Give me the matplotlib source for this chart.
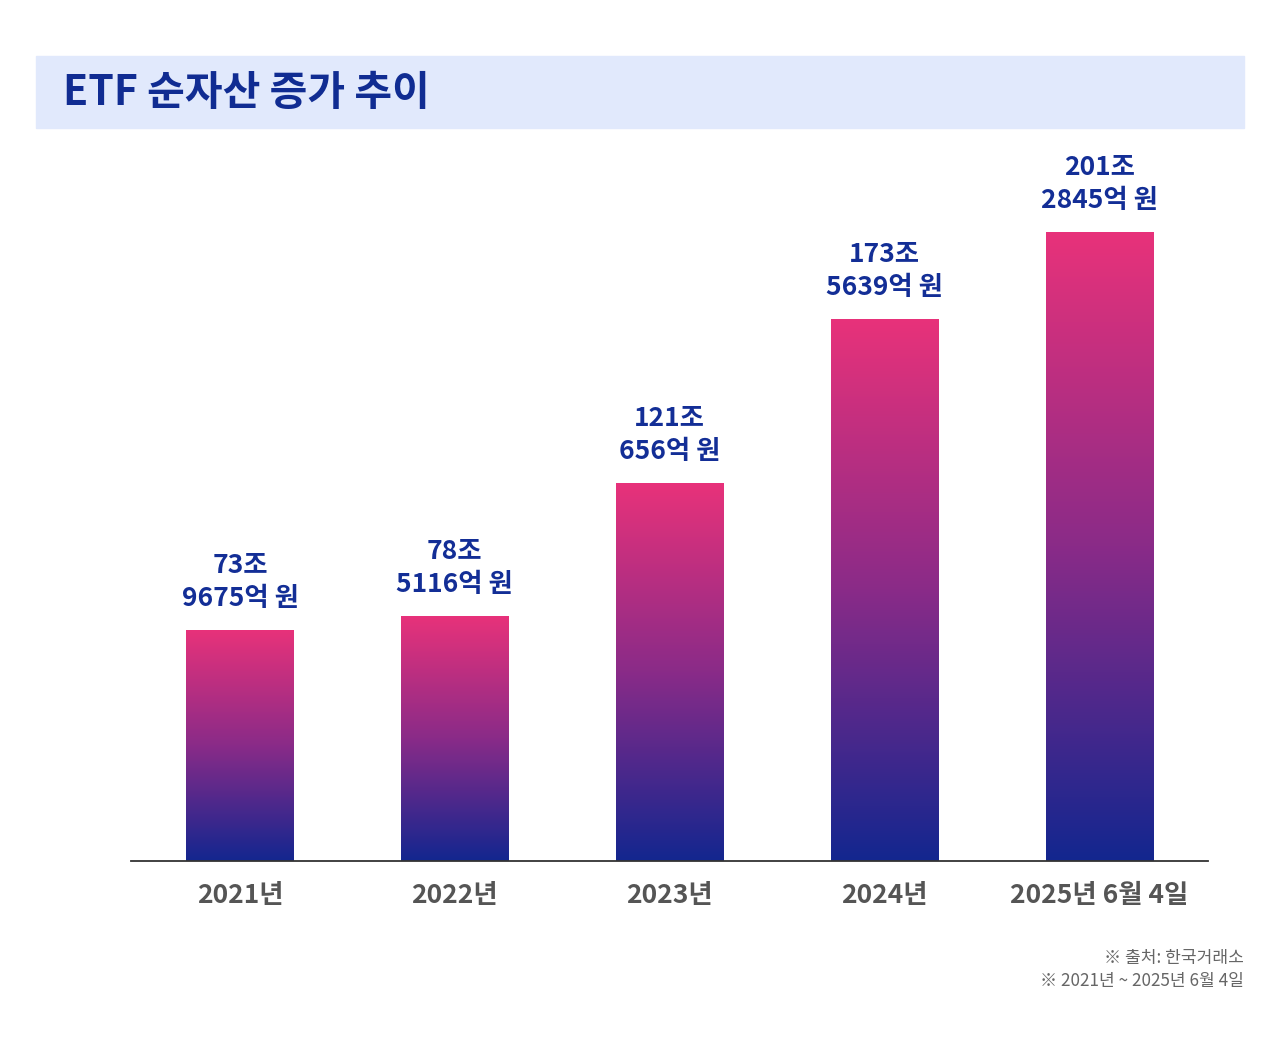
import numpy as np
import matplotlib.pyplot as plt
from matplotlib.colors import LinearSegmentedColormap
from matplotlib.patches import Rectangle

plt.rcParams['font.family'] = ['Noto Sans CJK KR', 'DejaVu Sans']

# data (조 원)
years = ["2021년", "2022년", "2023년", "2024년", "2025년 6월 4일"]
values = [73.9675, 78.5116, 121.0656, 173.5639, 201.2845]
labels = ["73조\n9675억 원", "78조\n5116억 원", "121조\n656억 원",
          "173조\n5639억 원", "201조\n2845억 원"]

navy = "#132E96"
grad = LinearSegmentedColormap.from_list("g", ["#13268F", "#8A2B88", "#E8327A"])

fig = plt.figure(figsize=(12.8, 10.4), dpi=100)

# title banner
fig.patches.append(Rectangle((36 / 1280, 1 - 128 / 1040), 1208 / 1280, 72 / 1040,
                             transform=fig.transFigure, color="#E1E9FC", zorder=0))
fig.text(63 / 1280, 1 - 93 / 1040, "ETF 순자산 증가 추이", fontsize=29.5, fontweight="bold",
         color="#102C92", va="center", ha="left")

ax = fig.add_axes([131 / 1280, 179 / 1040, 1077 / 1280, 721 / 1040])
x = np.arange(len(years))
bars = ax.bar(x, values, width=0.5, color="none")
ax.set_xlim(-0.507, 4.505)
ax.set_ylim(0, 230.7)

g = np.linspace(0, 1, 256).reshape(-1, 1)
for b in bars:
    x0, w, h = b.get_x(), b.get_width(), b.get_height()
    im = ax.imshow(g, cmap=grad, aspect="auto", origin="lower",
                   extent=[x0, x0 + w, 0, h], zorder=2)
    im.set_clip_path(b)

for xi, v, lab in zip(x, values, labels):
    ax.text(xi, v + 5.6, lab, ha="center", va="bottom", fontsize=19, fontweight="bold",
            color=navy, linespacing=1.3)

ax.set_xticks(x)
ax.set_xticklabels(years, fontsize=19, fontweight="bold", color="#555555")
ax.tick_params(axis="x", length=0, pad=15)
ax.set_yticks([])
for s in ["top", "right", "left"]:
    ax.spines[s].set_visible(False)
ax.spines["bottom"].set_color("#333333")
ax.spines["bottom"].set_linewidth(1.3)

fig.text(1244 / 1280, 1 - 958 / 1040, "※ 출처: 한국거래소", ha="right", va="center",
         fontsize=12.3, color="#666666")
fig.text(1244 / 1280, 1 - 981 / 1040, "※ 2021년 ~ 2025년 6월 4일", ha="right", va="center",
         fontsize=12.3, color="#666666")

fig.savefig("out.png", dpi=100, facecolor="white")
